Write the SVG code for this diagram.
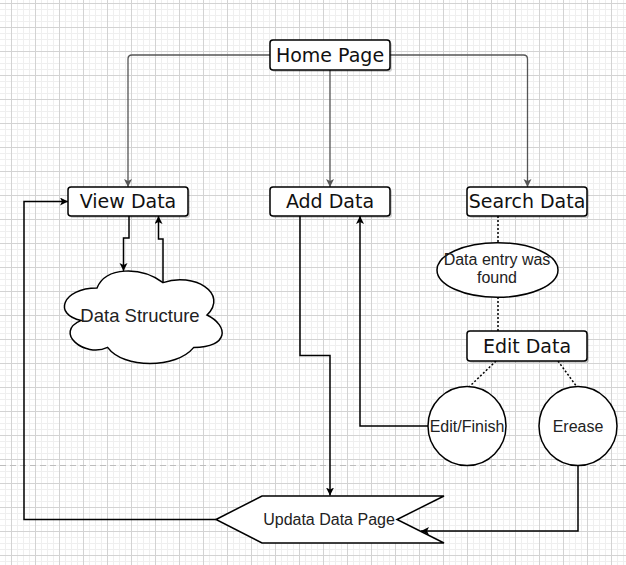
<svg xmlns="http://www.w3.org/2000/svg" width="626" height="565" viewBox="0 0 626 565">
<style>
.box{fill:#fff;stroke:#000;stroke-width:1.5}
.shadow{fill:#000;opacity:0.18}
.lbl{font-family:"DejaVu Sans",Verdana,sans-serif;font-size:19px;text-anchor:middle;fill:#111}
.sm{font-family:"Liberation Sans",Arial,sans-serif;font-size:16px;text-anchor:middle;fill:#222}
.e{fill:none;stroke:#000;stroke-width:1.5}
.g{fill:none;stroke:#555;stroke-width:1.3}
.dot{fill:none;stroke:#000;stroke-width:1.5;stroke-dasharray:2 2}
</style>
<defs>
<pattern id="grid" patternUnits="userSpaceOnUse" x="11" y="3" width="24" height="24">
<path d="M6.5 0V24M12.5 0V24M18.5 0V24M0 6.5H24M0 12.5H24M0 18.5H24" stroke="#efefef" stroke-width="1" fill="none"/>
<path d="M0.5 0V24M0 0.5H24" stroke="#d3d3d3" stroke-width="1" fill="none"/>
</pattern>
<marker id="ab" markerWidth="10" markerHeight="10" refX="8" refY="4" orient="auto" markerUnits="userSpaceOnUse">
<path d="M0,0 L8,4 L0,8 L2,4 Z" fill="#000"/>
</marker>
<marker id="ag" markerWidth="10" markerHeight="10" refX="8" refY="4" orient="auto" markerUnits="userSpaceOnUse">
<path d="M0,0 L8,4 L0,8 L2,4 Z" fill="#555"/>
</marker>
</defs>
<rect width="626" height="565" fill="#fff"/>
<rect width="626" height="565" fill="url(#grid)"/>
<line x1="0" y1="465.5" x2="626" y2="465.5" stroke="#bdbdbd" stroke-width="1" stroke-dasharray="6 4"/>

<g id="connectors">
<path class="g" d="M270,55 H132 Q128,55 128,59 V187" marker-end="url(#ag)"/>
<path class="g" d="M330,70 V187" marker-end="url(#ag)"/>
<path class="g" d="M390,55 H523.5 Q527.5,55 527.5,59 V187" marker-end="url(#ag)"/>
<path class="e" d="M129,216 V238 H123.5 V271" marker-end="url(#ab)"/>
<path class="e" d="M163,282 V239 H158.5 V216" marker-end="url(#ab)"/>
<path class="e" d="M300,216 V355.5 H330 V495.5" marker-end="url(#ab)"/>
<path class="e" d="M428,426 H360 V216" marker-end="url(#ab)"/>
<path class="e" d="M578,466 V531 H421" marker-end="url(#ab)"/>
<path class="e" d="M216,519.5 H24 V201.5 H68" marker-end="url(#ab)"/>
<path class="dot" d="M498,216 V243"/>
<path class="dot" d="M498,297 V331"/>
<path class="dot" d="M496,361 L469,387"/>
<path class="dot" d="M558,361 L577,387"/>
</g>

<g id="home">
<rect class="shadow" x="272" y="42" width="120" height="30" rx="3"/>
<rect class="box" x="270" y="40" width="120" height="30" rx="3"/>
<text class="lbl" x="330" y="62">Home Page</text>
</g>
<g id="view">
<rect class="shadow" x="70" y="189" width="120" height="29" rx="3"/>
<rect class="box" x="68" y="187" width="120" height="29" rx="3"/>
<text class="lbl" x="128" y="208">View Data</text>
</g>
<g id="add">
<rect class="shadow" x="272" y="189" width="120" height="29" rx="3"/>
<rect class="box" x="270" y="187" width="120" height="29" rx="3"/>
<text class="lbl" x="330" y="208">Add Data</text>
</g>
<g id="search">
<rect class="shadow" x="469" y="189" width="120" height="29" rx="3"/>
<rect class="box" x="467" y="187" width="120" height="29" rx="3"/>
<text class="lbl" x="527" y="208">Search Data</text>
</g>
<g id="edit">
<rect class="shadow" x="469" y="333" width="120" height="30" rx="3"/>
<rect class="box" x="467" y="331" width="120" height="30" rx="3"/>
<text class="lbl" x="527" y="353">Edit Data</text>
</g>
<g id="cloud">
<path class="box" transform="translate(53,261)" d="M44,27 C8.8,27 0,54 28.2,59.4 C0,71.3 31.7,97.2 54.6,86.4 C70.4,108 123.2,108 140.8,86.4 C176,86.4 176,64.8 154,54 C176,32.4 140.8,10.8 110,21.6 C88,5.4 52.8,5.4 44,27 Z"/>
<text class="sm" x="140" y="322" style="font-size:18.5px">Data Structure</text>
</g>
<g id="found">
<ellipse class="box" cx="497.5" cy="270" rx="60.5" ry="27.3"/>
<text class="sm" x="497" y="265">Data entry was</text>
<text class="sm" x="497" y="283">found</text>
</g>
<g id="editfinish">
<ellipse class="box" cx="467" cy="426" rx="39" ry="39.5"/>
<text class="sm" x="467" y="432">Edit/Finish</text>
</g>
<g id="erease">
<ellipse class="box" cx="578" cy="426" rx="39" ry="39.5"/>
<text class="sm" x="578" y="432">Erease</text>
</g>
<g id="update">
<polygon class="box" points="216,519.5 262,496 444,496 397,519.5 444,543 262,543"/>
<text class="sm" x="329" y="525">Updata Data Page</text>
</g>
</svg>
